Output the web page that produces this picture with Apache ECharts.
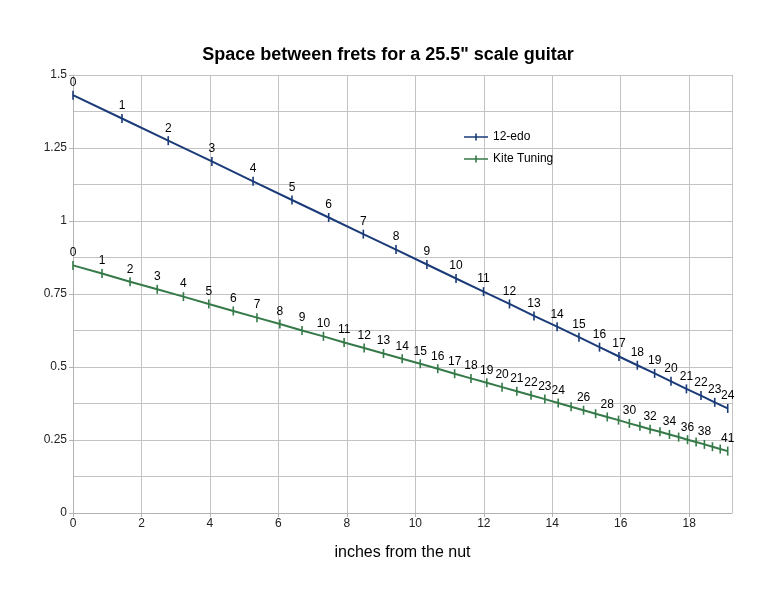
<!DOCTYPE html>
<html>
<head>
<meta charset="utf-8">
<script src="https://cdn.jsdelivr.net/npm/echarts@6/dist/echarts.min.js"></script>
<style>
  html, body { margin: 0; padding: 0; background: #fff; }
  #chart { width: 776px; height: 600px; }
</style>
</head>
<body>
<div id="chart"></div>
<script>
// fret position from the nut (inches) and space to the next fret (inches)
const fretX12 = [0, 1.431, 2.782, 4.057, 5.261, 6.397, 7.469, 8.481, 9.436, 10.338, 11.189, 11.992,
  12.75, 13.466, 14.141, 14.779, 15.380, 15.948, 16.484, 16.990, 17.468, 17.919, 18.344, 18.746, 19.125];
const space12 = [1.431, 1.351, 1.275, 1.204, 1.136, 1.072, 1.012, 0.955, 0.902, 0.851, 0.803, 0.758,
  0.716, 0.675, 0.638, 0.602, 0.568, 0.536, 0.506, 0.478, 0.451, 0.425, 0.402, 0.379, 0.358];

const fretXKite = [0, 0.848, 1.667, 2.460, 3.226, 3.966, 4.682, 5.374, 6.043, 6.690, 7.316, 7.920,
  8.505, 9.070, 9.616, 10.144, 10.655, 11.148, 11.625, 12.087, 12.533, 12.964, 13.380, 13.783, 14.173,
  14.550, 14.914, 15.266, 15.606, 15.935, 16.253, 16.560, 16.857, 17.145, 17.423, 17.691, 17.951,
  18.202, 18.444, 18.679, 18.906, 19.125];
const spaceKite = [0.848, 0.820, 0.792, 0.766, 0.741, 0.716, 0.692, 0.669, 0.647, 0.625, 0.605, 0.584,
  0.565, 0.546, 0.528, 0.511, 0.494, 0.477, 0.461, 0.446, 0.431, 0.417, 0.403, 0.390, 0.377,
  0.364, 0.352, 0.340, 0.329, 0.318, 0.307, 0.297, 0.287, 0.278, 0.269, 0.260, 0.251,
  0.243, 0.235, 0.227, 0.219, 0.212];
// kite frets whose number is not printed
const kiteHidden = [25, 27, 29, 31, 33, 35, 37, 39, 40];

const blue = '#1b3b78';
const green = '#357a48';

// line with a small vertical bar, like the chart's point marks
const legendIcon = 'path://M0,4.2 L24,4.2 L24,5.8 L0,5.8 Z M11.2,1.5 L12.8,1.5 L12.8,8.5 L11.2,8.5 Z';

function makeData(xs, ys, hidden) {
  return xs.map((x, i) => {
    let d = { value: [x, ys[i]] };
    if (hidden && hidden.indexOf(i) >= 0) d.label = { show: false };
    return d;
  });
}

var myChart = echarts.init(document.getElementById('chart'));
let option = {
  animation: false,
  title: {
    text: 'Space between frets for a 25.5" scale guitar',
    left: 'center',
    top: 41,
    textStyle: {
      fontFamily: 'Liberation Sans',
      fontSize: 18,
      fontWeight: 'bold',
      color: '#000'
    }
  },
  legend: {
    orient: 'vertical',
    left: 459,
    top: 126,
    itemGap: 10,
    itemWidth: 24,
    itemHeight: 10,
    textStyle: { fontFamily: 'Liberation Sans', fontSize: 12, color: '#000' },
    data: [
      { name: '12-edo', icon: legendIcon },
      { name: 'Kite Tuning', icon: legendIcon }
    ]
  },
  grid: {
    left: 73,
    right: 44,
    top: 75,
    bottom: 87
  },
  xAxis: {
    type: 'value',
    min: 0,
    max: 19.25,
    interval: 2,
    name: 'inches from the nut',
    nameLocation: 'middle',
    nameGap: 32,
    nameTextStyle: {
      fontFamily: 'Liberation Sans',
      fontSize: 16,
      color: '#000'
    },
    axisLine: { show: true, lineStyle: { color: '#b3b3b3' } },
    axisTick: { show: true, length: 4, lineStyle: { color: '#b3b3b3' } },
    axisLabel: {
      showMaxLabel: false,
      fontFamily: 'Liberation Sans',
      fontSize: 12,
      color: '#222',
      margin: 5
    },
    splitLine: { show: true, lineStyle: { color: '#c3c3c3' } }
  },
  yAxis: {
    type: 'value',
    min: 0,
    max: 1.5,
    interval: 0.25,
    axisLine: { show: true, lineStyle: { color: '#b3b3b3' } },
    axisTick: { show: true, length: 4, lineStyle: { color: '#b3b3b3' } },
    axisLabel: {
      fontFamily: 'Liberation Sans',
      fontSize: 12,
      color: '#222',
      margin: 6
    },
    splitLine: { show: true, lineStyle: { color: '#c3c3c3' } },
    minorTick: { show: false, splitNumber: 2 },
    minorSplitLine: { show: true, lineStyle: { color: '#c3c3c3' } }
  },
  series: [
    {
      name: '12-edo',
      type: 'line',
      data: makeData(fretX12, space12),
      symbol: 'rect',
      symbolSize: [1.6, 9],
      lineStyle: { color: blue, width: 2 },
      itemStyle: { color: blue },
      label: {
        show: true,
        position: 'top',
        distance: 2,
        fontFamily: 'Liberation Sans',
        fontSize: 12,
        color: '#000',
        formatter: p => String(p.dataIndex)
      }
    },
    {
      name: 'Kite Tuning',
      type: 'line',
      data: makeData(fretXKite, spaceKite, kiteHidden),
      symbol: 'rect',
      symbolSize: [1.6, 9],
      lineStyle: { color: green, width: 2 },
      itemStyle: { color: green },
      labelLayout: { hideOverlap: false },
      label: {
        show: true,
        position: 'top',
        distance: 2,
        fontFamily: 'Liberation Sans',
        fontSize: 12,
        color: '#000',
        formatter: p => String(p.dataIndex)
      }
    }
  ]
};
myChart.setOption(option);
</script>
</body>
</html>
